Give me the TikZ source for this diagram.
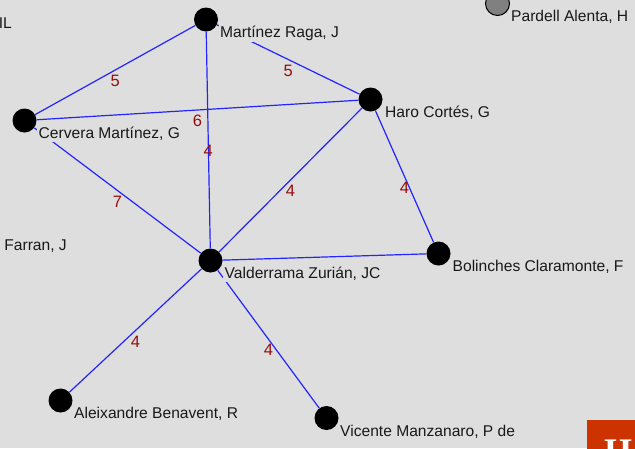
\documentclass[tikz,border=0pt]{standalone}
\usepackage{fontspec}
\setsansfont{Liberation Sans}
\newfontfamily\logofont{Liberation Serif}
\definecolor{canvas}{RGB}{222,222,222}
\definecolor{linkblue}{RGB}{36,36,255}
\definecolor{wtred}{RGB}{150,12,12}
\definecolor{logored}{RGB}{204,51,0}
\begin{document}
\begin{tikzpicture}[x=1pt, y=-1pt,
  font=\sffamily\fontsize{15.6}{18}\selectfont,
  au/.style={circle, fill=black, minimum size=24pt, inner sep=0pt},
  auoff/.style={au, fill=black!50, draw=black, line width=1pt},
  nm/.style={anchor=base west, fill=canvas, inner sep=1.5pt, text=black!90},
  link/.style={color=linkblue, line width=1.2pt},
  wt/.style={midway, yshift=-11pt, text=wtred, inner sep=0pt, font=\sffamily\fontsize{16.5}{18}\selectfont}]
\clip (0,0) rectangle (635,448);
\fill[canvas] (0,0) rectangle (635,448);
% ---- authors
\node[au] (mr) at (206,19.5) {};
\node[au] (cm) at (24.5,120.5) {};
\node[au] (hc) at (370.5,99.5) {};
\node[au] (vz) at (210.5,260.5) {};
\node[au] (bc) at (438.5,253.5) {};
\node[au] (ab) at (60.5,400.5) {};
\node[au] (vm) at (326.5,418) {};
\node[auoff] (pa) at (497.5,3.5) {};
% ---- co-authorship links
\draw[link] (mr) -- node[wt] (w1) {5} (cm);
\draw[link] (mr) -- node[wt] (w2) {5} (hc);
\draw[link] (mr) -- node[wt] (w3) {4} (vz);
\draw[link] (cm) -- node[wt] (w4) {6} (hc);
\draw[link] (cm) -- node[wt] (w5) {7} (vz);
\draw[link] (hc) -- node[wt] (w6) {4} (vz);
\draw[link] (hc) -- node[wt] (w7) {4} (bc);
\draw[link] (vz) -- (bc);
\draw[link] (vz) -- node[wt] (w8) {4} (ab);
\draw[link] (vz) -- node[wt] (w9) {4} (vm);
% ---- names
\node[nm] (mr-t) at (218.5,37.5) {Martínez Raga, J};
\node[nm] (cm-t) at (37,138.5) {Cervera Martínez, G};
\node[nm] (hc-t) at (383.5,117.5) {Haro Cortés, G};
\node[nm] (vz-t) at (223,278.5) {Valderrama Zurián, JC};
\node[nm] (bc-t) at (451,271.5) {Bolinches Claramonte, F};
\node[nm] (ab-t) at (72.5,418.5) {Aleixandre Benavent, R};
\node[nm] (vm-t) at (338.5,436) {Vicente Manzanaro, P de};
\node[nm] (pa-t) at (509.5,21.5) {Pardell Alenta, H};
\node[nm, anchor=base east] (cut1) at (13.5,28) {IL};
\node[nm, anchor=base east] (cut2) at (68.5,250) {n Farran, J};
% ---- corner badge
\node[fill=logored, anchor=north west, minimum width=60pt, minimum height=40pt] (logo) at (587,420) {};
\node[anchor=north west, inner sep=0pt, text=white, font=\logofont\bfseries\fontsize{36}{40}\selectfont] (logo-t) at (604,440) {H};
\end{tikzpicture}
\end{document}
